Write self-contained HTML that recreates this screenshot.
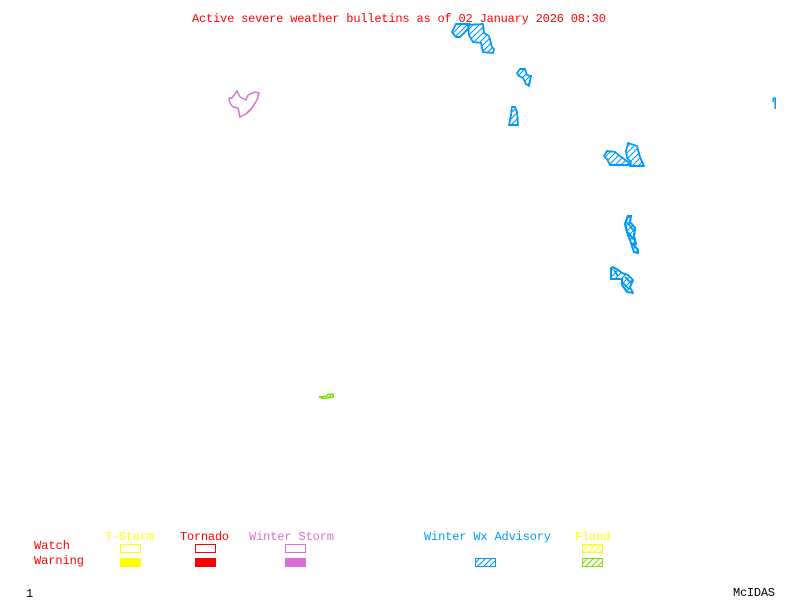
<!DOCTYPE html>
<html>
<head>
<meta charset="utf-8">
<style>
html,body{margin:0;padding:0;background:#fff;width:800px;height:600px;overflow:hidden}
svg{display:block}
text{font-family:"Liberation Mono",monospace;font-size:12px}
</style>
</head>
<body>
<svg width="800" height="600" viewBox="0 0 800 600" xmlns="http://www.w3.org/2000/svg">
<defs>
<pattern id="hb" width="6" height="6" patternUnits="userSpaceOnUse"><path d="M-1 7L7 -1M-1 1L1 -1M5 7L7 5" stroke="#0099ff" stroke-width="1.2" shape-rendering="crispEdges"/></pattern>
<pattern id="hy" width="6" height="6" patternUnits="userSpaceOnUse"><path d="M-1 7L7 -1M-1 1L1 -1M5 7L7 5" stroke="#ffff00" stroke-width="1.2" shape-rendering="crispEdges"/></pattern>
<pattern id="hg" width="6" height="6" patternUnits="userSpaceOnUse"><path d="M-1 7L7 -1M-1 1L1 -1M5 7L7 5" stroke="#7fdd00" stroke-width="1.2" shape-rendering="crispEdges"/></pattern>
</defs>
<g fill="url(#hb)" stroke="#0099ff" stroke-width="1.8" stroke-linejoin="round" shape-rendering="crispEdges">
<polygon points="452,32 456,24 470,24 467,30 460,37 456,37"/>
<polygon points="468,25 483,24 484,33 489,36 492,47 494,49 493,53 483,52 481,43 473,42 469,35"/>
<polygon points="517,73 520,69 525,69 527,75 531,76 529,86 526,84 523,78 519,76"/>
<polygon points="512,107 515,107 517,112 518,125 509,125 511,115"/>
<polygon points="604,156 607,151 615,152 620,156 628,162 631,165 610,165 607,159"/>
<polygon points="626,151 628,143 637,146 640,157 644,166 630,166 631,162 627,158"/>
<polygon points="628,216 631,216 630,222 635,228 634,236 636,244 633,244 638,250 638,253 634,252 632,246 630,240 627,232 625,224" stroke-width="2.2"/>
<polygon points="611,268 613,267 618,270 622,273 628,275 633,280 630,287 633,293 627,292 622,285 622,279 611,279" stroke-width="2"/>
<path d="M625 277L631 283M623 283L629 289M614 270L618 276M627 222L633 230M628 232L634 240" fill="none"/>
</g>
<path d="M773 98H775V109M773 98V102" fill="none" stroke="#0099ff" stroke-width="1.5" shape-rendering="crispEdges"/>
<polygon points="229,98 232,98 237,91 240,97 246,100 248,95 255,92 259,93 257,100 252,108 246,114 240,117 238,108 233,107 230,103" fill="none" stroke="#da70d6" stroke-width="1.5" shape-rendering="crispEdges"/>
<polygon points="319,397 327,396 328,394 333,394 333,397 327,398 322,398" fill="url(#hg)" stroke="#7fdd00" stroke-width="1.5" shape-rendering="crispEdges"/>

<g shape-rendering="crispEdges">
<rect x="120.500" y="544.500" width="20" height="8" fill="none" stroke="#ffff00"/>
<rect x="120" y="558" width="21" height="9" fill="#ffff00"/>
<rect x="195.500" y="544.500" width="20" height="8" fill="none" stroke="#ff0000"/>
<rect x="195" y="558" width="21" height="9" fill="#ff0000"/>
<rect x="285.500" y="544.500" width="20" height="8" fill="none" stroke="#da70d6"/>
<rect x="285" y="558" width="21" height="9" fill="#da70d6"/>
<rect x="475.500" y="558.500" width="20" height="8" fill="url(#hb)" stroke="#0099ff"/>
<rect x="582.500" y="544.500" width="20" height="8" fill="url(#hy)" stroke="#ffff00"/>
<rect x="582.500" y="558.500" width="20" height="8" fill="url(#hg)" stroke="#7fdd00"/>
</g>

<text x="192" y="22" fill="#ff0000" textLength="414" lengthAdjust="spacing">Active severe weather bulletins as of 02 January 2026 08:30</text>
<text x="105" y="540" fill="#ffff00" textLength="49" lengthAdjust="spacing">T-Storm</text>
<text x="180" y="540" fill="#ff0000" textLength="49" lengthAdjust="spacing">Tornado</text>
<text x="249" y="540" fill="#da70d6" textLength="85" lengthAdjust="spacing">Winter Storm</text>
<text x="424" y="540" fill="#0099ff" textLength="127" lengthAdjust="spacing">Winter Wx Advisory</text>
<text x="575" y="540" fill="#ffff00" textLength="35" lengthAdjust="spacing">Flood</text>
<text x="34" y="549" fill="#ff0000" textLength="36" lengthAdjust="spacing">Watch</text>
<text x="34" y="564" fill="#ff0000" textLength="50" lengthAdjust="spacing">Warning</text>
<text x="26" y="597" fill="#000000">1</text>
<text x="733" y="596" fill="#000000" textLength="42" lengthAdjust="spacing">McIDAS</text>
</svg>
</body>
</html>
